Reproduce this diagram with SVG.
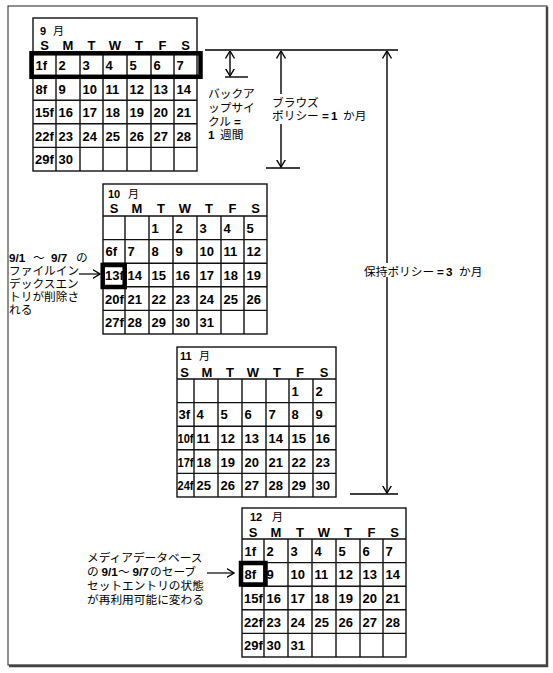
<svg xmlns="http://www.w3.org/2000/svg" width="553" height="673" viewBox="0 0 553 673">
<style>
.g{fill:none;stroke:#111;stroke-width:1.4}
.thick{fill:none;stroke:#000;stroke-width:4.5}
.n{font-family:"Liberation Sans",Arial,sans-serif;font-weight:bold;font-size:13px;fill:#000}
.d{font-family:"Liberation Sans",Arial,sans-serif;font-weight:bold;font-size:13px;fill:#000;text-anchor:middle}
.t{font-family:"Noto Sans CJK JP","Noto Sans CJK SC",sans-serif;font-size:11px;fill:#000}
.b{font-family:"Liberation Sans",Arial,sans-serif;font-weight:bold}
.j{font-family:"Noto Sans CJK JP","Noto Sans CJK SC",sans-serif;font-size:11.7px;fill:#000}
.ln{stroke:#000;stroke-width:1.4;fill:none}
.ar{stroke:#000;stroke-width:1.4;fill:none;marker-start:url(#ah);marker-end:url(#ah)}
.ae{stroke:#000;stroke-width:1.2;fill:none;marker-end:url(#ah)}
</style>
<defs>
<marker id="ah" viewBox="0 0 8 10" refX="7.5" refY="5" markerWidth="8" markerHeight="10" markerUnits="userSpaceOnUse" orient="auto-start-reverse">
<path d="M0,0.5 L7.5,5 L0,9.5" fill="none" stroke="#000" stroke-width="1.4"/>
</marker>
</defs>
<rect x="0" y="0" width="553" height="673" fill="#fff"/>
<g id="frame">
<rect x="8" y="6" width="539" height="659" fill="none" stroke="#222" stroke-width="1"/>
<path d="M547,7 V666 H9" fill="none" stroke="#444" stroke-width="2.5"/>
</g>

<g id="cal-sep">
<rect class="g" x="33" y="18" width="164" height="153"/>
<path class="g" d="M33,53H197M33,76.6H197M33,100.2H197M33,123.8H197M33,147.4H197M56,53V171M80,53V171M103,53V171M127,53V171M151,53V171M174,53V171"/>
<text class="t" y="35"><tspan class="b" x="40">9</tspan><tspan x="53">月</tspan></text>
<text class="d" y="50"><tspan x="44.5">S</tspan><tspan x="68">M</tspan><tspan x="91.5">T</tspan><tspan x="115">W</tspan><tspan x="139">T</tspan><tspan x="162.5">F</tspan><tspan x="185.5">S</tspan></text>
<text class="n" y="70"><tspan x="35.5">1f</tspan><tspan x="58.5">2</tspan><tspan x="82.5">3</tspan><tspan x="105.5">4</tspan><tspan x="129.5">5</tspan><tspan x="153.5">6</tspan><tspan x="176.5">7</tspan></text>
<text class="n" y="93.5"><tspan x="35.5">8f</tspan><tspan x="58.5">9</tspan><tspan x="82.5">10</tspan><tspan x="105.5">11</tspan><tspan x="129.5">12</tspan><tspan x="153.5">13</tspan><tspan x="176.5">14</tspan></text>
<text class="n" y="117"><tspan x="35">15f</tspan><tspan x="58.5">16</tspan><tspan x="82.5">17</tspan><tspan x="105.5">18</tspan><tspan x="129.5">19</tspan><tspan x="153.5">20</tspan><tspan x="176.5">21</tspan></text>
<text class="n" y="140.5"><tspan x="35">22f</tspan><tspan x="58.5">23</tspan><tspan x="82.5">24</tspan><tspan x="105.5">25</tspan><tspan x="129.5">26</tspan><tspan x="153.5">27</tspan><tspan x="176.5">28</tspan></text>
<text class="n" y="164"><tspan x="35">29f</tspan><tspan x="58.5">30</tspan></text>
<rect class="thick" x="31.5" y="53.3" width="169" height="23.5" stroke-width="5"/>
</g>

<g id="cal-oct">
<rect class="g" x="103" y="184" width="164" height="150"/>
<path class="g" d="M103,216H267M103,239.6H267M103,263.2H267M103,286.8H267M103,310.4H267M125,216V334M149,216V334M173,216V334M197,216V334M221,216V334M244,216V334"/>
<text class="t" y="198"><tspan class="b" x="108">10</tspan><tspan x="128">月</tspan></text>
<text class="d" y="213"><tspan x="114">S</tspan><tspan x="137">M</tspan><tspan x="161">T</tspan><tspan x="185">W</tspan><tspan x="209">T</tspan><tspan x="232.5">F</tspan><tspan x="255.5">S</tspan></text>
<text class="n" y="232.8"><tspan x="151.5">1</tspan><tspan x="175.5">2</tspan><tspan x="199.5">3</tspan><tspan x="223.5">4</tspan><tspan x="246.5">5</tspan></text>
<text class="n" y="256.4"><tspan x="105.5">6f</tspan><tspan x="127.5">7</tspan><tspan x="151.5">8</tspan><tspan x="175.5">9</tspan><tspan x="199.5">10</tspan><tspan x="223.5">11</tspan><tspan x="246.5">12</tspan></text>
<text class="n" y="280"><tspan x="105">13f</tspan><tspan x="127.5">14</tspan><tspan x="151.5">15</tspan><tspan x="175.5">16</tspan><tspan x="199.5">17</tspan><tspan x="223.5">18</tspan><tspan x="246.5">19</tspan></text>
<text class="n" y="303.6"><tspan x="105">20f</tspan><tspan x="127.5">21</tspan><tspan x="151.5">22</tspan><tspan x="175.5">23</tspan><tspan x="199.5">24</tspan><tspan x="223.5">25</tspan><tspan x="246.5">26</tspan></text>
<text class="n" y="327.2"><tspan x="105">27f</tspan><tspan x="127.5">28</tspan><tspan x="151.5">29</tspan><tspan x="175.5">30</tspan><tspan x="199.5">31</tspan></text>
<rect class="thick" x="102.7" y="265" width="22" height="22" stroke-width="4"/>
</g>

<g id="cal-nov">
<rect class="g" x="177" y="347" width="159" height="150"/>
<path class="g" d="M177,379H336M177,402.6H336M177,426.2H336M177,449.8H336M177,473.4H336M194,379V497M218,379V497M242,379V497M266,379V497M289,379V497M313,379V497"/>
<text class="t" y="360"><tspan class="b" x="180">11</tspan><tspan x="199">月</tspan></text>
<text class="d" y="377"><tspan x="184.5">S</tspan><tspan x="207">M</tspan><tspan x="230">T</tspan><tspan x="253">W</tspan><tspan x="277">T</tspan><tspan x="300">F</tspan><tspan x="324">S</tspan></text>
<text class="n" y="395.8"><tspan x="291.5">1</tspan><tspan x="315.5">2</tspan></text>
<text class="n" y="419.4"><tspan x="178.5">3f</tspan><tspan x="196.5">4</tspan><tspan x="220.5">5</tspan><tspan x="244.5">6</tspan><tspan x="268.5">7</tspan><tspan x="291.5">8</tspan><tspan x="315.5">9</tspan></text>
<text class="n" y="443"><tspan x="177.5" textLength="16" lengthAdjust="spacingAndGlyphs">10f</tspan><tspan x="196.5">11</tspan><tspan x="220.5">12</tspan><tspan x="244.5">13</tspan><tspan x="268.5">14</tspan><tspan x="291.5">15</tspan><tspan x="315.5">16</tspan></text>
<text class="n" y="466.6"><tspan x="177.5" textLength="16" lengthAdjust="spacingAndGlyphs">17f</tspan><tspan x="196.5">18</tspan><tspan x="220.5">19</tspan><tspan x="244.5">20</tspan><tspan x="268.5">21</tspan><tspan x="291.5">22</tspan><tspan x="315.5">23</tspan></text>
<text class="n" y="490.2"><tspan x="177.5" textLength="16" lengthAdjust="spacingAndGlyphs">24f</tspan><tspan x="196.5">25</tspan><tspan x="220.5">26</tspan><tspan x="244.5">27</tspan><tspan x="268.5">28</tspan><tspan x="291.5">29</tspan><tspan x="315.5">30</tspan></text>
</g>

<g id="cal-dec">
<rect class="g" x="242" y="508" width="164" height="149"/>
<path class="g" d="M242,539H406M242,562.6H406M242,586.2H406M242,609.8H406M242,633.4H406M264,539V657M288,539V657M312,539V657M336,539V657M360,539V657M383,539V657"/>
<text class="t" y="521"><tspan class="b" x="250">12</tspan><tspan x="272">月</tspan></text>
<text class="d" y="537"><tspan x="253">S</tspan><tspan x="276">M</tspan><tspan x="300">T</tspan><tspan x="324">W</tspan><tspan x="348">T</tspan><tspan x="371.5">F</tspan><tspan x="394.5">S</tspan></text>
<text class="n" y="555.8"><tspan x="244.5">1f</tspan><tspan x="266.5">2</tspan><tspan x="290.5">3</tspan><tspan x="314.5">4</tspan><tspan x="338.5">5</tspan><tspan x="362.5">6</tspan><tspan x="385.5">7</tspan></text>
<text class="n" y="579.4"><tspan x="244.5">8f</tspan><tspan x="266.5">9</tspan><tspan x="290.5">10</tspan><tspan x="314.5">11</tspan><tspan x="338.5">12</tspan><tspan x="362.5">13</tspan><tspan x="385.5">14</tspan></text>
<text class="n" y="603"><tspan x="244">15f</tspan><tspan x="266.5">16</tspan><tspan x="290.5">17</tspan><tspan x="314.5">18</tspan><tspan x="338.5">19</tspan><tspan x="362.5">20</tspan><tspan x="385.5">21</tspan></text>
<text class="n" y="626.6"><tspan x="244">22f</tspan><tspan x="266.5">23</tspan><tspan x="290.5">24</tspan><tspan x="314.5">25</tspan><tspan x="338.5">26</tspan><tspan x="362.5">27</tspan><tspan x="385.5">28</tspan></text>
<text class="n" y="650.2"><tspan x="244">29f</tspan><tspan x="266.5">30</tspan><tspan x="290.5">31</tspan></text>
<rect class="thick" x="241" y="563" width="24.5" height="21.5" stroke-width="4"/>
</g>

<g id="connectors">
<line class="ln" x1="205" y1="50" x2="398" y2="50"/>
<line class="ar" x1="230" y1="51" x2="230" y2="76"/>
<line class="ln" x1="225" y1="77" x2="248" y2="77"/>
<line class="ar" x1="281" y1="51" x2="281" y2="167"/>
<line class="ln" x1="266" y1="168" x2="300" y2="168"/>
<line class="ar" x1="387" y1="51" x2="387" y2="493"/>
<line class="ln" x1="350" y1="494" x2="398" y2="494"/>
<line class="ae" x1="79" y1="274" x2="100" y2="274"/>
<line class="ae" x1="207" y1="573" x2="234" y2="573"/>
</g>

<g id="label-backup">
<text class="j"><tspan x="208" y="97.5">バックア</tspan><tspan x="208" y="111.5">ップサイ</tspan><tspan x="208" y="125.5">クル</tspan><tspan class="b" x="234" y="125.5">=</tspan><tspan class="b" x="208" y="139">1</tspan><tspan x="220" y="139">週間</tspan></text>
</g>
<g id="label-browse">
<rect x="270" y="94" width="100" height="30" fill="#fff"/>
<text class="j"><tspan x="272" y="106.5">ブラウズ</tspan><tspan x="272" y="120">ポリシー</tspan><tspan class="b" x="322" y="120">=</tspan><tspan class="b" x="331" y="120">1</tspan><tspan x="343" y="120">か月</tspan></text>
</g>
<g id="label-retention">
<rect x="362" y="263" width="124" height="14" fill="#fff"/>
<text class="j" y="276"><tspan x="364">保持ポリシー</tspan><tspan class="b" x="437">=</tspan><tspan class="b" x="446">3</tspan><tspan x="459">か月</tspan></text>
</g>
<g id="label-oct">
<text class="j"><tspan class="b" x="9" y="261.5">9/1</tspan><tspan x="33" y="261.5">～</tspan><tspan class="b" x="51" y="261.5">9/7</tspan><tspan x="76" y="261.5">の</tspan><tspan x="9" y="274.5">ファイルイン</tspan><tspan x="9" y="287.5">デックスエン</tspan><tspan x="9" y="300.5">トリが削除さ</tspan><tspan x="9" y="313.5">れる</tspan></text>
</g>
<g id="label-dec">
<text class="j"><tspan x="87" y="561.5">メディアデータベース</tspan><tspan x="87" y="575.5">の</tspan><tspan class="b" x="101.5" y="575.5">9/1</tspan><tspan x="118" y="575.5">～</tspan><tspan class="b" x="132.5" y="575.5">9/7</tspan><tspan x="150" y="575.5">のセーブ</tspan><tspan x="87" y="589.5">セットエントリの状態</tspan><tspan x="87" y="603.5">が再利用可能に変わる</tspan></text>
</g>
</svg>
